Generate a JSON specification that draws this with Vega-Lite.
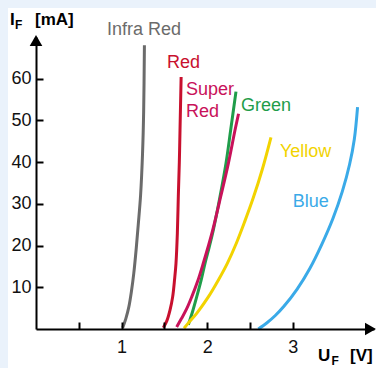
{
  "$schema": "https://vega.github.io/schema/vega-lite/v6.json",
  "width": 338,
  "height": 292,
  "autosize": {"type": "none"},
  "padding": {"left": 36, "top": 37, "right": 2, "bottom": 39},
  "background": "#eaf2fb",
  "config": {
    "view": {"stroke": null},
    "font": "Liberation Sans",
    "axis": {
      "domainColor": "#000000",
      "domainWidth": 2,
      "tickColor": "#000000",
      "tickWidth": 2,
      "tickSize": -7,
      "labelColor": "#111111",
      "labelFont": "Liberation Sans",
      "labelFontSize": 18,
      "grid": false,
      "title": null
    }
  },
  "datasets": {
    "curves": [
      {"series": "Infra Red", "U": 1.013, "I": 0.3},
      {"series": "Infra Red", "U": 1.05, "I": 2.5},
      {"series": "Infra Red", "U": 1.085, "I": 5.3},
      {"series": "Infra Red", "U": 1.115, "I": 9},
      {"series": "Infra Red", "U": 1.143, "I": 13.4},
      {"series": "Infra Red", "U": 1.17, "I": 19},
      {"series": "Infra Red", "U": 1.195, "I": 25},
      {"series": "Infra Red", "U": 1.222, "I": 32},
      {"series": "Infra Red", "U": 1.245, "I": 42},
      {"series": "Infra Red", "U": 1.258, "I": 52},
      {"series": "Infra Red", "U": 1.267, "I": 68},
      {"series": "Red", "U": 1.488, "I": 0.3},
      {"series": "Red", "U": 1.53, "I": 2.0},
      {"series": "Red", "U": 1.566, "I": 4.5},
      {"series": "Red", "U": 1.597, "I": 7.7},
      {"series": "Red", "U": 1.62, "I": 12},
      {"series": "Red", "U": 1.636, "I": 15.75},
      {"series": "Red", "U": 1.652, "I": 23},
      {"series": "Red", "U": 1.663, "I": 31.7},
      {"series": "Red", "U": 1.675, "I": 40},
      {"series": "Red", "U": 1.683, "I": 47.7},
      {"series": "Red", "U": 1.696, "I": 60.4},
      {"series": "Green", "U": 1.78, "I": 1},
      {"series": "Green", "U": 1.83, "I": 4.2},
      {"series": "Green", "U": 1.878, "I": 7.7},
      {"series": "Green", "U": 1.93, "I": 11.7},
      {"series": "Green", "U": 1.975, "I": 15.75},
      {"series": "Green", "U": 2.025, "I": 19.7},
      {"series": "Green", "U": 2.072, "I": 23.7},
      {"series": "Green", "U": 2.15, "I": 31.7},
      {"series": "Green", "U": 2.22, "I": 39.7},
      {"series": "Green", "U": 2.275, "I": 47.7},
      {"series": "Green", "U": 2.337, "I": 56.9},
      {"series": "Super Red", "U": 1.644, "I": 0.5},
      {"series": "Super Red", "U": 1.70, "I": 2.5},
      {"series": "Super Red", "U": 1.76, "I": 4.8},
      {"series": "Super Red", "U": 1.82, "I": 7.7},
      {"series": "Super Red", "U": 1.89, "I": 11.5},
      {"series": "Super Red", "U": 1.955, "I": 15.75},
      {"series": "Super Red", "U": 2.01, "I": 19.6},
      {"series": "Super Red", "U": 2.065, "I": 23.7},
      {"series": "Super Red", "U": 2.158, "I": 31.7},
      {"series": "Super Red", "U": 2.248, "I": 39.7},
      {"series": "Super Red", "U": 2.326, "I": 47.7},
      {"series": "Super Red", "U": 2.367, "I": 51.6},
      {"series": "Yellow", "U": 1.73, "I": 0.2},
      {"series": "Yellow", "U": 1.80, "I": 1.9},
      {"series": "Yellow", "U": 1.878, "I": 3.76},
      {"series": "Yellow", "U": 2.014, "I": 7.7},
      {"series": "Yellow", "U": 2.13, "I": 11.7},
      {"series": "Yellow", "U": 2.236, "I": 15.75},
      {"series": "Yellow", "U": 2.34, "I": 20.5},
      {"series": "Yellow", "U": 2.44, "I": 25.8},
      {"series": "Yellow", "U": 2.54, "I": 31.5},
      {"series": "Yellow", "U": 2.645, "I": 38.3},
      {"series": "Yellow", "U": 2.746, "I": 45.96},
      {"series": "Blue", "U": 2.598, "I": 0},
      {"series": "Blue", "U": 2.70, "I": 1.5},
      {"series": "Blue", "U": 2.80, "I": 3.3},
      {"series": "Blue", "U": 2.90, "I": 5.5},
      {"series": "Blue", "U": 3.05, "I": 9.5},
      {"series": "Blue", "U": 3.20, "I": 14.5},
      {"series": "Blue", "U": 3.34, "I": 20.3},
      {"series": "Blue", "U": 3.47, "I": 26.5},
      {"series": "Blue", "U": 3.58, "I": 33},
      {"series": "Blue", "U": 3.665, "I": 39.5},
      {"series": "Blue", "U": 3.72, "I": 45.5},
      {"series": "Blue", "U": 3.758, "I": 53.2}
    ],
    "labels": [
      {"series": "Infra Red", "text": "Infra Red", "U": 0.83, "I": 70.5},
      {"series": "Red", "text": "Red", "U": 1.531, "I": 62.6},
      {"series": "Super Red", "text": "Super", "U": 1.753, "I": 56.1},
      {"series": "Super Red", "text": "Red", "U": 1.753, "I": 50.8},
      {"series": "Green", "text": "Green", "U": 2.396, "I": 52.3},
      {"series": "Yellow", "text": "Yellow", "U": 2.851, "I": 41.2},
      {"series": "Blue", "text": "Blue", "U": 3.0, "I": 29.2}
    ],
    "titles": [
      {"text": "I", "U": -0.304, "I": 72.9},
      {"text": "[mA]", "U": -0.012, "I": 72.9},
      {"text": "U", "U": 3.296, "I": -7.67},
      {"text": "[V]", "U": 3.67, "I": -7.67}
    ],
    "subs": [
      {"text": "F", "U": -0.245, "I": 71.9},
      {"text": "F", "U": 3.453, "I": -8.63}
    ]
  },
  "layer": [
    {
      "data": {"values": [{}]},
      "mark": {"type": "rect", "fill": "#ffffff", "opacity": 1, "strokeWidth": 0},
      "encoding": {
        "x": {"datum": -0.327, "type": "quantitative", "scale": {"domain": [0, 3.95]},
          "axis": {
            "zindex": 1,
            "values": [0.5, 1, 1.5, 2, 2.5, 3],
            "labelExpr": "datum.value == 1 ? '1' : datum.value == 2 ? '2' : datum.value == 3 ? '3' : ''",
            "labelOverlap": false,
            "labelFlush": false,
            "labelPadding": 16
          }},
        "x2": {"datum": 4.6},
        "y": {"datum": 76.96, "type": "quantitative", "scale": {"domain": [0, 70]},
          "axis": {"zindex": 1, "values": [10, 20, 30, 40, 50, 60], "labelPadding": 12}},
        "y2": {"datum": -12}
      }
    },
    {
      "data": {"name": "curves"},
      "mark": {"type": "line", "strokeWidth": 3, "interpolate": "catmull-rom", "strokeCap": "butt"},
      "encoding": {
        "x": {
          "field": "U", "type": "quantitative",
          "scale": {"domain": [0, 3.95]},
          "axis": {
            "zindex": 1,
            "values": [0.5, 1, 1.5, 2, 2.5, 3],
            "labelExpr": "datum.value == 1 ? '1' : datum.value == 2 ? '2' : datum.value == 3 ? '3' : ''",
            "labelOverlap": false,
            "labelFlush": false,
            "labelPadding": 16
          }
        },
        "y": {
          "field": "I", "type": "quantitative",
          "scale": {"domain": [0, 70]},
          "axis": {"zindex": 1, "values": [10, 20, 30, 40, 50, 60], "labelPadding": 12}
        },
        "color": {
          "field": "series", "type": "nominal",
          "scale": {
            "domain": ["Infra Red", "Red", "Green", "Super Red", "Yellow", "Blue"],
            "range": ["#6b6b6b", "#c8102e", "#1f9d4a", "#c8125a", "#f2d300", "#3aaae8"]
          },
          "legend": null
        }
      }
    },
    {
      "data": {"name": "labels"},
      "mark": {"type": "text", "align": "left", "baseline": "alphabetic", "fontSize": 18, "font": "Liberation Sans"},
      "encoding": {
        "x": {"field": "U", "type": "quantitative", "scale": {"domain": [0, 3.95]}},
        "y": {"field": "I", "type": "quantitative", "scale": {"domain": [0, 70]}},
        "text": {"field": "text"},
        "color": {"field": "series", "type": "nominal", "legend": null}
      }
    },
    {
      "data": {"name": "titles"},
      "mark": {"type": "text", "align": "left", "baseline": "alphabetic", "fontSize": 17, "fontWeight": "bold", "font": "Liberation Sans", "color": "#000000"},
      "encoding": {
        "x": {"field": "U", "type": "quantitative", "scale": {"domain": [0, 3.95]}},
        "y": {"field": "I", "type": "quantitative", "scale": {"domain": [0, 70]}},
        "text": {"field": "text"}
      }
    },
    {
      "data": {"name": "subs"},
      "mark": {"type": "text", "align": "left", "baseline": "alphabetic", "fontSize": 12, "fontWeight": "bold", "font": "Liberation Sans", "color": "#000000"},
      "encoding": {
        "x": {"field": "U", "type": "quantitative", "scale": {"domain": [0, 3.95]}},
        "y": {"field": "I", "type": "quantitative", "scale": {"domain": [0, 70]}},
        "text": {"field": "text"}
      }
    },
    {
      "data": {"values": [{}]},
      "mark": {"type": "point", "shape": "triangle-up", "size": 160, "filled": true, "color": "#000000", "opacity": 1},
      "encoding": {
        "x": {"datum": 0, "type": "quantitative", "scale": {"domain": [0, 3.95]}},
        "y": {"datum": 69.16, "type": "quantitative", "scale": {"domain": [0, 70]}}
      }
    },
    {
      "data": {"values": [{}]},
      "mark": {"type": "point", "shape": "triangle-right", "size": 160, "filled": true, "color": "#000000", "opacity": 1},
      "encoding": {
        "x": {"datum": 3.909, "type": "quantitative", "scale": {"domain": [0, 3.95]}},
        "y": {"datum": 0, "type": "quantitative", "scale": {"domain": [0, 70]}}
      }
    }
  ]
}
